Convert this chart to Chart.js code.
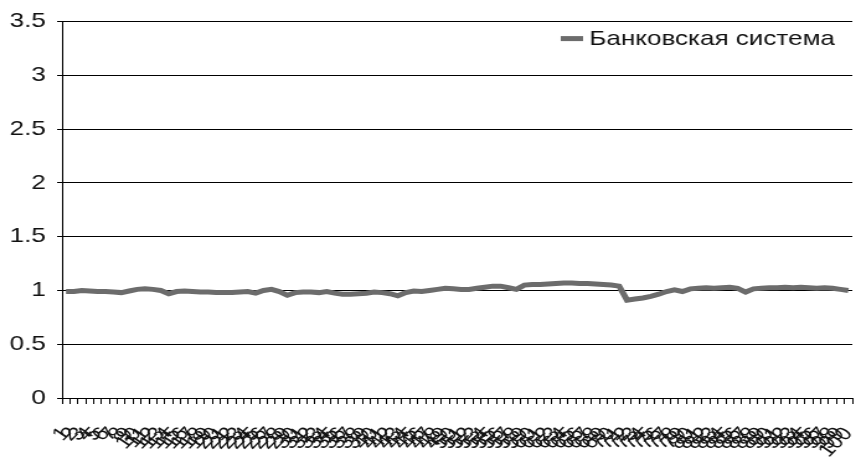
<!DOCTYPE html>
<html>
<head>
<meta charset="utf-8">
<script src="https://cdn.jsdelivr.net/npm/chart.js@4/dist/chart.umd.min.js"></script>
<style>
  html, body { margin: 0; padding: 0; background: #fff; overflow: hidden; }
  #wrap { position: absolute; left: 0; top: 0; width: 690px; height: 469px;
          transform: scaleX(1.2406); transform-origin: 0 0; }
</style>
</head>
<body>
<div id="wrap"><canvas id="chart"></canvas></div>
<script>
// Periods along the horizontal axis
const periods = [
  "1","2","3","4","5","6","7","8","9","10",
  "11","12","13","14","15","16","17","18","19","20",
  "21","22","23","24","25","26","27","28","29","30",
  "31","32","33","34","35","36","37","38","39","40",
  "41","42","43","44","45","46","47","48","49","50",
  "51","52","53","54","55","56","57","58","59","60",
  "61","62","63","64","65","66","67","68","69","70",
  "71","72","73","74","75","76","77","78","79","80",
  "81","82","83","84","85","86","87","88","89","90",
  "91","92","93","94","95","96","97","98","99","100"
];

// Index for the banking system
const bankingSystem = [
  0.99, 0.99, 1.00, 0.995, 0.99, 0.99, 0.985, 0.98, 0.995, 1.01,
  1.015, 1.01, 1.00, 0.97, 0.99, 0.995, 0.99, 0.985, 0.985, 0.98,
  0.98, 0.98, 0.985, 0.99, 0.975, 1.00, 1.01, 0.99, 0.955, 0.98,
  0.985, 0.985, 0.98, 0.99, 0.975, 0.965, 0.965, 0.97, 0.975, 0.985,
  0.98, 0.97, 0.95, 0.98, 0.995, 0.99, 1.00, 1.01, 1.02, 1.015,
  1.01, 1.01, 1.02, 1.03, 1.04, 1.04, 1.025, 1.01, 1.05, 1.055,
  1.055, 1.06, 1.065, 1.07, 1.07, 1.065, 1.065, 1.06, 1.055, 1.05,
  1.04, 0.91, 0.92, 0.93, 0.945, 0.965, 0.99, 1.005, 0.99, 1.015,
  1.02, 1.025, 1.02, 1.025, 1.03, 1.02, 0.985, 1.015, 1.02, 1.025,
  1.025, 1.03, 1.025, 1.03, 1.025, 1.02, 1.025, 1.02, 1.01, 1.00
];

// Value axis tick labels, bottom to top
const yTickLabels = ["0", "0.5", "1", "1.5", "2", "2.5", "3", "3.5"];

const seriesName = "Банковская система";
const yMin = 0, yMax = 3.5, yStep = 0.5;

const FONT = "'Liberation Sans', Arial, sans-serif";
const INK = "#111";
const LINE = "#6c6c6c";

// Legend entry drawn inside the top-right corner of the plot
const cornerLegend = {
  id: "cornerLegend",
  afterDraw(chart) {
    const { ctx, chartArea } = chart;
    const ds = chart.data.datasets[0];
    ctx.save();
    ctx.font = "21px " + FONT;
    ctx.textBaseline = "middle";
    ctx.textAlign = "left";
    const textW = ctx.measureText(ds.label).width;
    const right = chartArea.right - 14;
    const textX = right - textW;
    const cy = chartArea.top + 17;
    ctx.fillStyle = ds.borderColor;
    ctx.fillRect(textX - 23, cy - 2.5, 18, 5);
    ctx.fillStyle = INK;
    ctx.fillText(ds.label, textX, cy + 1);
    ctx.restore();
  }
};

new Chart(document.getElementById("chart"), {
  type: "line",
  data: {
    labels: periods,
    datasets: [{
      label: seriesName,
      data: bankingSystem,
      borderColor: LINE,
      backgroundColor: LINE,
      borderWidth: 5,
      pointRadius: 0,
      tension: 0
    }]
  },
  plugins: [cornerLegend],
  options: {
    responsive: true,
    maintainAspectRatio: false,
    animation: false,
    layout: { padding: { top: 16, right: 3, left: 8, bottom: 0 } },
    plugins: {
      tooltip: { enabled: false },
      legend: { display: false }
    },
    scales: {
      x: {
        offset: true,
        grid: {
          offset: true,
          drawOnChartArea: false,
          drawTicks: true,
          tickLength: 6,
          color: "#000"
        },
        border: { color: "#000", width: 1 },
        ticks: {
          autoSkip: false,
          minRotation: 51,
          maxRotation: 51,
          padding: 19,
          color: INK,
          font: { family: FONT, size: 19 }
        },
        afterFit: (scale) => {
          scale.height = 71;
          scale.paddingLeft = 0;
          scale.paddingRight = 0;
        }
      },
      y: {
        min: yMin,
        max: yMax,
        grid: {
          color: "#000",
          lineWidth: 1,
          drawTicks: true,
          tickLength: 4
        },
        border: { color: "#000", width: 1 },
        ticks: {
          stepSize: yStep,
          padding: 9,
          color: INK,
          font: { family: FONT, size: 21 },
          callback: (value, index) => yTickLabels[index]
        },
        afterFit: (scale) => { scale.width = 42; }
      }
    }
  }
});
</script>
</body>
</html>
